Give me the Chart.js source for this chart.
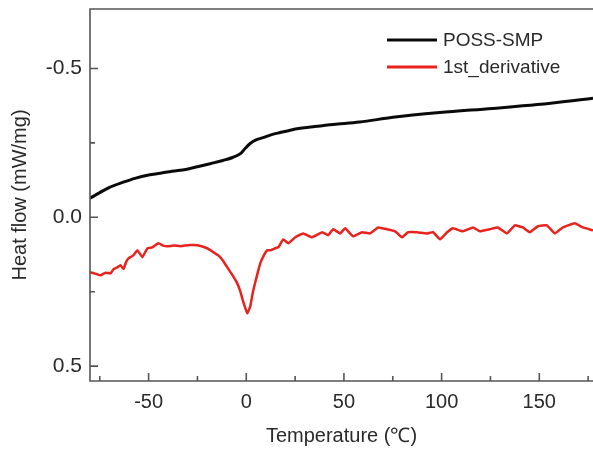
<!DOCTYPE html>
<html>
<head>
<meta charset="utf-8">
<script src="https://cdn.jsdelivr.net/npm/chart.js@4.4.0/dist/chart.umd.min.js"></script>
<style>
  html, body { margin: 0; padding: 0; background: #fff; }
  #wrap { width: 593px; height: 450px; }
</style>
</head>
<body>
<div id="wrap"><canvas id="dsc-chart"></canvas></div>
<script>
// DSC curve (heat flow, exo down)
var blackT  = [-80, -75, -70, -63, -57, -50, -44, -38, -31, -25, -18, -12, -7, -3, -0.5, 2, 5, 8.7, 13, 17.4, 22, 27.6, 35, 44.5, 58, 75, 99, 126, 149, 177.5];
var blackHF = [-0.064, -0.083, -0.101, -0.118, -0.131, -0.142, -0.148, -0.155, -0.161, -0.170, -0.181, -0.191, -0.201, -0.214, -0.232, -0.248, -0.260, -0.268, -0.278, -0.285, -0.292, -0.299, -0.305, -0.312, -0.320, -0.336, -0.352, -0.366, -0.379, -0.400];

// first derivative, noisy trace
var redT  = [-80, -77, -74.6, -72, -69.5, -68, -66, -64.4, -62.9, -61.5, -60.3, -57.8, -55.7, -53.2, -50.6, -48.1, -45, -42.5, -40.4, -37, -33.7, -29, -25, -20, -16.9, -14.3, -12, -9.7, -7, -4.6, -3, -1.5, 0.5, 2, 3.6, 5.5, 7.2, 9, 10.7, 12.3, 14.8, 16.5, 18.9, 21.5, 25.1, 29.1, 33.7, 38.9, 41.9, 44.5, 48.1, 50.6, 54.7, 59.3, 63.4, 67.5, 72.1, 76.2, 79.8, 82.8, 87.4, 92.5, 95.6, 99.2, 102.8, 105.8, 110.9, 116.1, 119.6, 124.7, 128.8, 133.4, 137.5, 141.6, 145.2, 149.3, 153.9, 158, 162.1, 168.2, 172.3, 177.5];
var redHF = [0.184, 0.190, 0.195, 0.186, 0.188, 0.175, 0.168, 0.161, 0.174, 0.150, 0.138, 0.128, 0.111, 0.134, 0.104, 0.101, 0.087, 0.095, 0.097, 0.095, 0.097, 0.093, 0.094, 0.104, 0.117, 0.128, 0.145, 0.168, 0.195, 0.222, 0.250, 0.285, 0.322, 0.300, 0.245, 0.195, 0.154, 0.128, 0.111, 0.111, 0.104, 0.100, 0.074, 0.087, 0.067, 0.054, 0.067, 0.050, 0.060, 0.040, 0.054, 0.037, 0.064, 0.050, 0.054, 0.034, 0.040, 0.047, 0.067, 0.050, 0.050, 0.054, 0.050, 0.074, 0.050, 0.037, 0.047, 0.034, 0.047, 0.040, 0.034, 0.054, 0.027, 0.034, 0.050, 0.030, 0.027, 0.054, 0.034, 0.020, 0.034, 0.044];

var seriesNames = ["POSS-SMP", "1st_derivative"];
var xTickVals = [-50, 0, 50, 100, 150];
var xMinorVals = [-75, -25, 25, 75, 125, 175];
var yTickVals = [-0.5, 0.0, 0.5];
var yMinorVals = [-0.25, 0.25];

function toPoints(xs, ys) {
  var pts = [];
  for (var i = 0; i < xs.length; i++) pts.push({ x: xs[i], y: ys[i] });
  return pts;
}

var axisColor = "#555";
var textColor = "#2a2a2a";
var fontFam = "'Liberation Sans', Arial, sans-serif";

// axes frame with inward ticks + top border
var framePlugin = {
  id: "frame",
  afterDraw: function(chart) {
    var ctx = chart.ctx;
    var a = chart.chartArea;
    var xs = chart.scales.x, ys = chart.scales.y;
    ctx.save();
    ctx.strokeStyle = axisColor;
    ctx.lineWidth = 1.6;
    ctx.beginPath();
    ctx.moveTo(a.right + 2, a.top);
    ctx.lineTo(a.left, a.top);
    ctx.lineTo(a.left, a.bottom);
    ctx.lineTo(a.right + 2, a.bottom);
    ctx.stroke();

    ctx.beginPath();
    xTickVals.forEach(function(v) {
      var p = xs.getPixelForValue(v);
      ctx.moveTo(p, a.bottom); ctx.lineTo(p, a.bottom - 8);
    });
    xMinorVals.forEach(function(v) {
      var p = xs.getPixelForValue(v);
      ctx.moveTo(p, a.bottom); ctx.lineTo(p, a.bottom - 5);
    });
    yTickVals.forEach(function(v) {
      var p = ys.getPixelForValue(v);
      ctx.moveTo(a.left, p); ctx.lineTo(a.left + 8, p);
    });
    yMinorVals.forEach(function(v) {
      var p = ys.getPixelForValue(v);
      ctx.moveTo(a.left, p); ctx.lineTo(a.left + 5, p);
    });
    ctx.stroke();

    // legend in the upper right corner
    ctx.font = "19px " + fontFam;
    ctx.textBaseline = "middle";
    ctx.fillStyle = textColor;
    var lx = 387, ly = 40;
    chart.data.datasets.forEach(function(ds, i) {
      var yy = ly + i * 27;
      ctx.strokeStyle = ds.borderColor;
      ctx.lineWidth = 3;
      ctx.beginPath();
      ctx.moveTo(lx, yy); ctx.lineTo(lx + 50, yy);
      ctx.stroke();
      ctx.fillText(ds.label, lx + 56, yy + 1);
    });
    ctx.restore();
  }
};

var ctx = document.getElementById("dsc-chart").getContext("2d");
new Chart(ctx, {
  type: "line",
  data: {
    datasets: [
      {
        label: seriesNames[0],
        data: toPoints(blackT, blackHF),
        borderColor: "#0a0a0a",
        borderWidth: 3,
        pointRadius: 0,
        cubicInterpolationMode: "monotone",
        fill: false
      },
      {
        label: seriesNames[1],
        data: toPoints(redT, redHF),
        borderColor: "#e8231e",
        borderWidth: 2.5,
        pointRadius: 0,
        tension: 0.1,
        fill: false
      }
    ]
  },
  options: {
    responsive: true,
    maintainAspectRatio: false,
    animation: false,
    layout: { padding: { top: 9, right: 0, left: 0, bottom: 0 } },
    plugins: {
      legend: { display: false },
      tooltip: { enabled: false }
    },
    scales: {
      x: {
        type: "linear",
        min: -80,
        max: 177.5,
        afterBuildTicks: function(scale) {
          scale.ticks = xTickVals.map(function(v) { return { value: v }; });
        },
        afterFit: function(scale) {
          scale.height = 69;
          scale.paddingLeft = 0; scale.paddingRight = 0;
        },
        grid: { display: false, drawTicks: false },
        border: { display: false },
        ticks: {
          color: textColor,
          font: { family: fontFam, size: 20 },
          padding: 9,
          maxRotation: 0
        },
        title: {
          display: true,
          text: "Temperature (℃)",
          color: textColor,
          font: { family: fontFam, size: 20 },
          padding: { top: 0, bottom: 2 }
        }
      },
      y: {
        type: "linear",
        reverse: true,
        min: -0.7,
        max: 0.55,
        afterBuildTicks: function(scale) {
          scale.ticks = yTickVals.map(function(v) { return { value: v }; });
        },
        afterFit: function(scale) {
          scale.width = 90;
          scale.paddingTop = 0; scale.paddingBottom = 0;
        },
        grid: { display: false, drawTicks: false },
        border: { display: false },
        ticks: {
          color: textColor,
          font: { family: fontFam, size: 21 },
          padding: 8,
          callback: function(v) { return Number(v).toFixed(1); }
        },
        title: {
          display: true,
          text: "Heat flow (mW/mg)",
          color: textColor,
          font: { family: fontFam, size: 20 },
          padding: { top: 8, bottom: 0 }
        }
      }
    }
  },
  plugins: [framePlugin]
});
</script>
</body>
</html>
